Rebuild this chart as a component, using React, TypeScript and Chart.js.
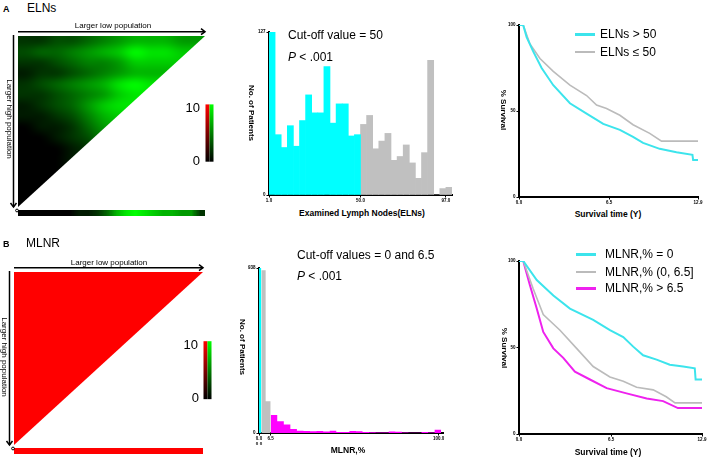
import React, { useEffect, useRef } from "react";
import { Chart, registerables } from "chart.js";
Chart.register(...registerables);

const FONT = '"Liberation Sans", Arial, Helvetica, sans-serif';
const CYAN = "#00FFFF";
const CYAN_LINE = "#3CE4EC";
const GRAY = "#C0C0C0";
const GRAY_LINE = "#BBBBBB";
const MAGENTA = "#FF00FF";
const MAGENTA_LINE = "#EE22EE";

// ---------- X-tile heat maps (intensity 0..10) ----------
const elnHeat = [
  [2, 2, 3, 3, 4, 5, 6, 7, 7, 7, 6, 6],
  [3, 4, 4, 5, 6, 7, 8, 10, 9, 9, 8, 8],
  [2, 2, 3, 4, 5, 5, 6, 8, 8, 8, 8, 8],
  [1, 2, 2, 3, 4, 5, 6, 7, 7, 7, 7, 7],
  [2, 3, 4, 5, 6, 7, 9, 10, 9, 9, 9, 9],
  [2, 2, 3, 4, 5, 6, 8, 9, 9, 9, 9, 9],
  [1, 2, 3, 4, 6, 8, 9, 9, 9, 9, 9, 9],
  [1, 1, 2, 3, 5, 7, 8, 8, 8, 8, 8, 8],
  [0, 1, 1, 2, 4, 6, 7, 7, 7, 7, 7, 7],
  [0, 0, 1, 2, 3, 5, 5, 5, 5, 5, 5, 5],
  [0, 0, 0, 1, 2, 4, 4, 4, 4, 4, 4, 4],
  [0, 0, 0, 1, 2, 3, 3, 3, 3, 3, 3, 3],
  [0, 0, 0, 1, 2, 2, 2, 2, 2, 2, 2, 2],
  [0, 0, 0, 1, 1, 1, 1, 1, 1, 1, 1, 1],
  [0, 0, 1, 1, 1, 1, 1, 1, 1, 1, 1, 1],
  [0, 0, 0, 0, 0, 0, 0, 0, 0, 0, 0, 0],
];
const elnStrip = [0, 0, 0, 0, 0, 0, 1, 1, 2, 4, 7, 9, 10, 9, 8, 7, 7, 6, 6, 2];
const mlnrHeat = [
  [10, 10],
  [10, 10],
];
const mlnrStrip = [10, 10];

// ---------- Histogram A: examined lymph nodes ----------
const elnCyanCounts = [127, 47, 37, 54, 38, 58, 78, 64, 64, 100, 56, 71, 71, 46, 47];
const elnGrayCounts = [55, 62, 36, 42, 48, 27, 30, 39, 25, 13, 33, 105, 0, 5, 6];
const elnXTicks = [0, 15, 29];
const elnXLabels = ["1.0", "50.0", "97.0"];
const elnYMax = 127;

// ---------- Histogram B: MLNR ----------
const mlnrZeroEdges = [0, 1.3];
const mlnrZeroCounts = [938];
const mlnrMidEdges = [1.3, 3.7, 6.5];
const mlnrMidCounts = [925, 181];
const MLNR_HIGH_START = 6.5;
const MLNR_BIN = 3.65;
const mlnrHighCounts = [103, 67, 48, 23, 13, 11, 10, 12, 9, 13, 6, 5, 11, 10, 5, 4, 3, 3, 9, 7, 3, 2, 2, 5, 3, 19];
const mlnrXTicks = [0, 6.5, 100];
const mlnrXLabels: (string | string[])[] = [["0.0", "0.0"], "6.5", "100.0"];
const mlnrYMax = 938;

// ---------- Survival A ----------
const survTicksX = [0, 6.5, 12.9];
const survLabelsX = ["0.0", "6.5", "12.9"];
const elnHighTime = [0, 0.3, 0.55, 1.03, 1.63, 2.47, 3.67, 4.87, 6.07, 7.27, 8.22, 8.94, 10.14, 11.35, 12.5, 12.55, 12.9];
const elnHighSurv = [100, 100, 93, 84.5, 75, 65, 54.5, 48.5, 42.5, 39, 35, 31.5, 28, 26, 24.5, 21.5, 21.5];
const elnLowTime = [0, 0.3, 0.79, 1.51, 2.47, 3.67, 4.87, 5.59, 6.31, 7.27, 8.22, 9.42, 10.27, 12.9];
const elnLowSurv = [100, 100, 89, 80.5, 73, 65, 59, 53.5, 51.5, 47.5, 42, 37, 32.5, 32.5];

// ---------- Survival B ----------
const mlnr0Time = [0, 0.3, 1.25, 2.42, 3.59, 5.23, 6.41, 7.35, 8.05, 8.75, 9.7, 10.63, 11.57, 12.39, 12.45, 12.9];
const mlnr0Surv = [100, 100, 89, 80, 72.5, 66, 60, 56, 50.5, 45.5, 43, 40, 39, 38, 31.5, 31.5];
const mlnrMidTime = [0, 0.3, 1.0, 1.71, 2.89, 4.06, 5.23, 6.41, 7.35, 8.29, 9.46, 10.38, 11.0, 12.9];
const mlnrMidSurv = [100, 100, 84, 69, 60, 49.5, 39, 33, 30.5, 27, 25.5, 21.5, 18, 18];
const mlnrHighTime = [0, 0.3, 0.77, 1.25, 1.71, 2.42, 3.12, 3.94, 5.0, 6.18, 7.58, 9.0, 10.16, 11.2, 12.9];
const mlnrHighSurv = [100, 100, 86, 72.5, 59, 49.5, 44, 36, 31.5, 26.5, 23.5, 20.5, 19, 15, 15];

// ---------- helpers ----------
function axis(min: number, max: number, vals: number[], labels: any[], dir: "x" | "y", size: number) {
  return {
    type: "linear",
    min,
    max,
    offset: false,
    grid: { display: true, drawOnChartArea: false, drawTicks: true, tickLength: 2.5, color: "#000", lineWidth: 1, offset: false },
    border: { display: true, color: "#000", width: 2 },
    afterBuildTicks: (s: any) => {
      s.ticks = vals.map((v) => ({ value: v }));
    },
    ticks: {
      autoSkip: false,
      maxRotation: 0,
      minRotation: 0,
      padding: 1,
      color: "#000",
      font: { family: FONT, size: 4.5, weight: "bold" },
      callback: (_v: any, i: number) => labels[i],
    },
    afterFit: (s: any) => {
      if (dir === "x") s.height = size;
      else s.width = size;
    },
  };
}

const baseOpts = (padding: any) => ({
  responsive: false,
  animation: false,
  events: [],
  layout: { padding },
  plugins: { legend: { display: false }, tooltip: { enabled: false } },
});

function stepData(edges: number[], counts: number[]) {
  return edges.map((x, i) => ({ x, y: counts[Math.min(i, counts.length - 1)] }));
}

function survSeries(t: number[], s: number[], color: string, width: number) {
  return {
    data: t.map((x, i) => ({ x, y: s[i] })),
    borderColor: color,
    borderWidth: width,
    pointRadius: 0,
    fill: false,
    tension: 0,
  };
}

function makeXtilePlugin(grid: number[][], strip: number[], rgb: number[]) {
  return {
    id: "xtile",
    afterDraw(chart: any) {
      const ctx = chart.ctx as CanvasRenderingContext2D;
      const xs = chart.scales.x;
      const ys = chart.scales.y;
      const x0 = xs.getPixelForValue(0);
      const x1 = xs.getPixelForValue(1);
      const y0 = ys.getPixelForValue(0);
      const y1 = ys.getPixelForValue(1);
      const col = (v: number) => rgb.map((c) => Math.round((c * v) / 10));

      const toImage = (rows: number[][]) => {
        const off = document.createElement("canvas");
        off.width = rows[0].length;
        off.height = rows.length;
        const octx = off.getContext("2d")!;
        const img = octx.createImageData(off.width, off.height);
        rows.forEach((row, r) =>
          row.forEach((v, c) => {
            const [R, G, B] = col(v);
            const k = (r * off.width + c) * 4;
            img.data[k] = R;
            img.data[k + 1] = G;
            img.data[k + 2] = B;
            img.data[k + 3] = 255;
          })
        );
        octx.putImageData(img, 0, 0);
        return off;
      };

      ctx.save();
      ctx.imageSmoothingEnabled = true;
      (ctx as any).imageSmoothingQuality = "high";
      ctx.beginPath();
      ctx.moveTo(x0, y0);
      ctx.lineTo(x1, y0);
      ctx.lineTo(x0, y1);
      ctx.closePath();
      ctx.clip();
      ctx.drawImage(toImage(grid), x0, y0, x1 - x0, y1 - y0);
      ctx.restore();

      // strip
      ctx.save();
      ctx.imageSmoothingEnabled = true;
      ctx.drawImage(toImage([strip]), x0, y1 + 3, x1 - x0, 6);
      ctx.restore();

      // colour bar
      const cbTop = y0 + (y1 - y0) * 0.4;
      const cbBot = y0 + (y1 - y0) * 0.735;
      const cbX = x1 + 0.5;
      const gr = ctx.createLinearGradient(0, cbTop, 0, cbBot);
      gr.addColorStop(0, "rgb(255,0,0)");
      gr.addColorStop(1, "rgb(0,0,0)");
      const gg = ctx.createLinearGradient(0, cbTop, 0, cbBot);
      gg.addColorStop(0, "rgb(0,255,0)");
      gg.addColorStop(1, "rgb(0,0,0)");
      ctx.fillStyle = gr;
      ctx.fillRect(cbX, cbTop, 4, cbBot - cbTop);
      ctx.fillStyle = gg;
      ctx.fillRect(cbX + 4, cbTop, 4, cbBot - cbTop);

      // arrows
      ctx.save();
      ctx.strokeStyle = "#000";
      ctx.lineWidth = 1.5;
      const ay = y0 - 4.3;
      ctx.beginPath();
      ctx.moveTo(x0, ay);
      ctx.lineTo(x1, ay);
      ctx.stroke();
      ctx.beginPath();
      ctx.moveTo(x1 - 4, ay - 3);
      ctx.lineTo(x1, ay);
      ctx.lineTo(x1 - 4, ay + 3);
      ctx.stroke();
      const ax = x0 - 4.5;
      ctx.beginPath();
      ctx.moveTo(ax, y0 - 1);
      ctx.lineTo(ax, y1);
      ctx.stroke();
      ctx.beginPath();
      ctx.moveTo(ax - 3, y1 - 4);
      ctx.lineTo(ax, y1);
      ctx.lineTo(ax + 3, y1 - 4);
      ctx.stroke();
      ctx.lineWidth = 1;
      ctx.beginPath();
      ctx.arc(x0 - 1, y1 + 3.5, 1.4, 0, Math.PI * 2);
      ctx.stroke();
      ctx.restore();
    },
  };
}

function heatConfig(grid: number[][], strip: number[], rgb: number[], padding: any) {
  return {
    type: "scatter",
    data: { datasets: [] },
    options: {
      ...baseOpts(padding),
      scales: {
        x: { type: "linear", min: 0, max: 1, display: false },
        y: { type: "linear", min: 0, max: 1, reverse: true, display: false },
      },
    },
    plugins: [makeXtilePlugin(grid, strip, rgb)],
  };
}

function histAConfig() {
  const bar = (color: string) => ({
    backgroundColor: color,
    borderWidth: 0,
    grouped: false,
    barPercentage: 1,
    categoryPercentage: 1,
  });
  return {
    type: "bar",
    data: {
      datasets: [
        { ...bar(CYAN), data: elnCyanCounts.map((y, i) => ({ x: i + 0.5, y })) },
        { ...bar(GRAY), data: elnGrayCounts.map((y, i) => ({ x: elnCyanCounts.length + i + 0.5, y })) },
      ],
    },
    options: {
      ...baseOpts({ top: 6, right: 4, left: 0, bottom: 0 }),
      scales: {
        x: axis(0, elnCyanCounts.length + elnGrayCounts.length, elnXTicks, elnXLabels, "x", 12),
        y: axis(0, elnYMax, [0, elnYMax], ["0", String(elnYMax)], "y", 15),
      },
    },
  };
}

function histBConfig() {
  const highEdges = mlnrHighCounts.map((_, i) => MLNR_HIGH_START + i * MLNR_BIN);
  highEdges.push(MLNR_HIGH_START + mlnrHighCounts.length * MLNR_BIN);
  const area = (color: string, edges: number[], counts: number[]) => ({
    data: stepData(edges, counts),
    stepped: "before",
    fill: "origin",
    backgroundColor: color,
    borderColor: "rgba(0,0,0,0)",
    borderWidth: 0,
    pointRadius: 0,
  });
  return {
    type: "line",
    data: {
      datasets: [
        area(CYAN, mlnrZeroEdges, mlnrZeroCounts),
        area(GRAY, mlnrMidEdges, mlnrMidCounts),
        area(MAGENTA, highEdges, mlnrHighCounts),
      ],
    },
    options: {
      ...baseOpts({ top: 6, right: 4, left: 0, bottom: 0 }),
      scales: {
        x: axis(0, 102.4, mlnrXTicks, mlnrXLabels, "x", 12),
        y: axis(0, mlnrYMax, [0, mlnrYMax], ["0", String(mlnrYMax)], "y", 15),
      },
    },
  };
}

function survConfig(datasets: any[]) {
  return {
    type: "line",
    data: { datasets },
    options: {
      ...baseOpts({ top: 5, right: 6, left: 0, bottom: 0 }),
      scales: {
        x: axis(0, 12.9, survTicksX, survLabelsX, "x", 10),
        y: axis(0, 100, [0, 50, 100], ["0", "50", "100"], "y", 14),
      },
    },
  };
}

// ---------- layout ----------
type Box = { left: number; top: number; width: number; height: number };
const boxes: Box[] = [
  { left: 0, top: 20, width: 232, height: 200 },
  { left: 0, top: 255, width: 232, height: 203 },
  { left: 254, top: 26, width: 202, height: 181 },
  { left: 244, top: 262, width: 203, height: 183 },
  { left: 505, top: 20, width: 199, height: 187 },
  { left: 505, top: 256, width: 203, height: 188 },
];

function T(props: { x: number; y: number; size: number; bold?: boolean; align?: "left" | "center" | "right"; rotate?: boolean; children: any }) {
  const { x, y, size, bold, align = "left", rotate, children } = props;
  const style: any = {
    position: "absolute",
    top: y,
    fontFamily: FONT,
    fontSize: size,
    fontWeight: bold ? "bold" : "normal",
    lineHeight: 1,
    whiteSpace: "pre",
    color: "#000",
  };
  if (rotate) {
    style.left = x;
    style.transform = "translate(-50%,-50%) rotate(90deg)";
  } else if (align === "center") {
    style.left = x;
    style.transform = "translate(-50%,-50%)";
  } else if (align === "right") {
    style.right = 709 - x;
    style.transform = "translateY(-50%)";
  } else {
    style.left = x;
    style.transform = "translateY(-50%)";
  }
  return <div style={style}>{children}</div>;
}

function Swatch(props: { x: number; y: number; w: number; h: number; color: string }) {
  return (
    <div
      style={{
        position: "absolute",
        left: props.x,
        top: props.y - props.h / 2,
        width: props.w,
        height: props.h,
        background: props.color,
      }}
    />
  );
}

export default function App() {
  const r0 = useRef<HTMLCanvasElement>(null);
  const r1 = useRef<HTMLCanvasElement>(null);
  const r2 = useRef<HTMLCanvasElement>(null);
  const r3 = useRef<HTMLCanvasElement>(null);
  const r4 = useRef<HTMLCanvasElement>(null);
  const r5 = useRef<HTMLCanvasElement>(null);
  const refs = [r0, r1, r2, r3, r4, r5];

  useEffect(() => {
    const configs: any[] = [
      heatConfig(elnHeat, elnStrip, [0, 255, 0], { left: 18, top: 16, right: 27, bottom: 13 }),
      heatConfig(mlnrHeat, mlnrStrip, [255, 0, 0], { left: 14, top: 17, right: 29, bottom: 13 }),
      histAConfig(),
      histBConfig(),
      survConfig([
        survSeries(elnHighTime, elnHighSurv, CYAN_LINE, 2),
        survSeries(elnLowTime, elnLowSurv, GRAY_LINE, 1.6),
      ]),
      survConfig([
        survSeries(mlnr0Time, mlnr0Surv, CYAN_LINE, 2),
        survSeries(mlnrMidTime, mlnrMidSurv, GRAY_LINE, 1.6),
        survSeries(mlnrHighTime, mlnrHighSurv, MAGENTA_LINE, 2),
      ]),
    ];
    const charts = configs.map((cfg, i) => new Chart(refs[i].current as HTMLCanvasElement, cfg));
    return () => charts.forEach((c) => c.destroy());
  }, []);

  return (
    <div style={{ position: "absolute", left: 0, top: 0, width: 709, height: 458, overflow: "hidden", background: "#fff" }}>
      {boxes.map((b, i) => (
        <canvas
          key={i}
          ref={refs[i]}
          width={b.width}
          height={b.height}
          style={{ position: "absolute", left: b.left, top: b.top, width: b.width, height: b.height }}
        />
      ))}

      {/* Panel A */}
      <T x={3} y={9} size={9} bold>A</T>
      <T x={27} y={8} size={12}>ELNs</T>
      <T x={113} y={26} size={8} align="center">Larger low population</T>
      <T x={8.5} y={119} size={8} rotate>Larger high population</T>
      <T x={200} y={107} size={13} align="right">10</T>
      <T x={200} y={160} size={13} align="right">0</T>

      <T x={288} y={35} size={12}>Cut-off value = 50</T>
      <T x={288} y={57} size={12}><i>P</i> &lt; .001</T>
      <T x={251} y={113} size={8} bold rotate>No. of Patients</T>
      <T x={362} y={213} size={8.5} bold align="center">Examined Lymph Nodes(ELNs)</T>

      <Swatch x={575} y={34} w={20} h={3} color={CYAN_LINE} />
      <T x={600} y={34} size={12}>ELNs &gt; 50</T>
      <Swatch x={575} y={51.7} w={20} h={2} color={GRAY_LINE} />
      <T x={600} y={51.7} size={12}>ELNs ≤ 50</T>
      <T x={503} y={110} size={8} bold rotate>% Survival</T>
      <T x={608} y={214} size={8.5} bold align="center">Survival time (Y)</T>

      {/* Panel B */}
      <T x={3} y={244} size={9} bold>B</T>
      <T x={26} y={243} size={12}>MLNR</T>
      <T x={109} y={262.5} size={8} align="center">Larger low population</T>
      <T x={4} y={357} size={8} rotate>Larger high population</T>
      <T x={198} y={343.5} size={13} align="right">10</T>
      <T x={199} y={397} size={13} align="right">0</T>

      <T x={297} y={255} size={12}>Cut-off values = 0 and 6.5</T>
      <T x={297} y={276} size={12}><i>P</i> &lt; .001</T>
      <T x={241.5} y={347} size={8} bold rotate>No. of Patients</T>
      <T x={348} y={450} size={8.5} bold align="center">MLNR,%</T>

      <Swatch x={576} y={254} w={20} h={3} color={CYAN_LINE} />
      <T x={605} y={254} size={12}>MLNR,% = 0</T>
      <Swatch x={576} y={271.7} w={20} h={2} color={GRAY_LINE} />
      <T x={605} y={271.7} size={12}>MLNR,% (0, 6.5]</T>
      <Swatch x={576} y={288.3} w={20} h={3} color={MAGENTA_LINE} />
      <T x={605} y={288.3} size={12}>MLNR,% &gt; 6.5</T>
      <T x={503.5} y={348} size={8} bold rotate>% Survival</T>
      <T x={608} y={452} size={8.5} bold align="center">Survival time (Y)</T>
    </div>
  );
}
